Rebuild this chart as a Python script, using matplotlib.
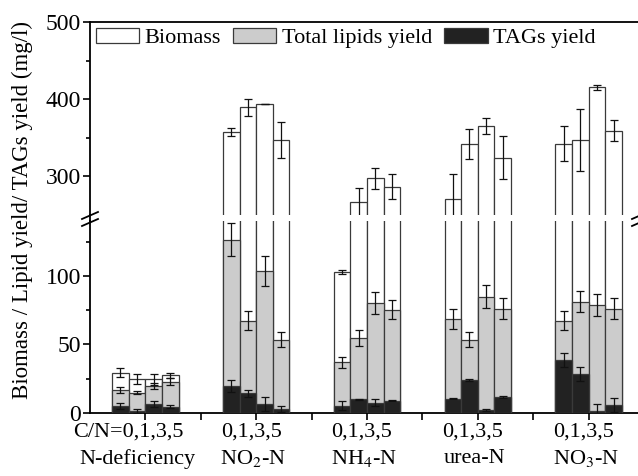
import numpy as np
import matplotlib
matplotlib.use("Agg")
import matplotlib.pyplot as plt
from matplotlib.lines import Line2D

plt.rcParams['font.family'] = ['Liberation Serif', 'DejaVu Serif']
plt.rcParams['mathtext.fontset'] = 'stix'

groups = ['N-deficiency', 'NO$_2$-N', 'NH$_4$-N', 'urea-N', 'NO$_3$-N']
ratio_labels = ['C/N=0,1,3,5', '0,1,3,5', '0,1,3,5', '0,1,3,5', '0,1,3,5']

# mg/l, one row per nitrogen source, columns C/N = 0,1,3,5
biomass = [[29.4, 24.6, 24.6, 27.5],
           [357, 389, 394, 347],
           [102.7, 266, 297, 286],
           [270, 342, 365, 324],
           [342, 347, 415, 359]]
biomass_err = [[3.5, 3.5, 4, 2],
               [5, 11, 0, 23],
               [1.5, 19, 14, 16],
               [32, 19.5, 10, 28],
               [22.5, 40, 3, 14]]
lipids = [[16.8, 14.8, 19.7, 22.9],
          [126.3, 67.4, 103.6, 53.3],
          [37, 54.7, 80, 75.2],
          [68.6, 53.3, 84.9, 76.1],
          [67.4, 81.3, 78.6, 76.1]]
lipids_err = [[2.5, 1, 2, 2.5],
              [12, 7, 11, 5.5],
              [4, 5.5, 8, 7],
              [7, 5.5, 8.5, 7.5],
              [7, 8, 8, 7.5]]
tags = [[5.1, 1.5, 6.6, 4.6],
        [19.7, 14.4, 6.6, 2.9],
        [5.4, 10, 7.5, 9],
        [10.5, 24.1, 2.2, 11.7],
        [38.7, 28.5, 1.7, 5.8]]
tags_err = [[2, 1.5, 2, 1],
            [4.5, 2.5, 5, 2],
            [3, 0.5, 2.5, 0.5],
            [0.5, 0.5, 0.5, 0.5],
            [5, 5, 5, 5]]

W, H = 638, 476
fig = plt.figure(figsize=(W / 100, H / 100), dpi=100)

left = 90 / W
width = (644 - 90) / W
ax_lo = fig.add_axes([left, (H - 413) / H, width, (413 - 221) / H])
ax_hi = fig.add_axes([left, (H - 214.5) / H, width, (214.5 - 22) / H])

centers = np.arange(1, len(groups) + 1)
bw = 0.15
offsets = np.array([-1.5, -0.5, 0.5, 1.5]) * bw
edge = '#3a3a3a'

for ax in (ax_lo, ax_hi):
    for i, c in enumerate(centers):
        xs = c + offsets
        ax.bar(xs, biomass[i], bw, color='white', edgecolor=edge, linewidth=0.9, zorder=2)
        ax.bar(xs, lipids[i], bw, color='#cccccc', edgecolor=edge, linewidth=0.9, zorder=3)
        ax.bar(xs, tags[i], bw, color='#222222', edgecolor=edge, linewidth=0.9, zorder=4)
        for vals, errs in ((biomass[i], biomass_err[i]), (lipids[i], lipids_err[i]),
                           (tags[i], tags_err[i])):
            ax.errorbar(xs, vals, yerr=errs, fmt='none', ecolor='#111111',
                        elinewidth=0.9, capsize=3, capthick=0.9, zorder=5)
    ax.set_xlim(0.5, 5.5)
    for s in ax.spines.values():
        s.set_linewidth(1.3)
    ax.spines['right'].set_visible(False)
    ax.tick_params(axis='y', which='major', direction='out', length=5, width=1.2,
                   labelsize=17, pad=1.5)
    ax.tick_params(axis='y', which='minor', direction='out', length=3, width=1.2)

ax_lo.set_ylim(0, 140)
ax_lo.set_yticks([0, 50, 100])
ax_lo.set_yticks([25, 75, 125], minor=True)
ax_lo.spines['top'].set_visible(False)
ax_lo.set_xticks(centers)
ax_lo.set_xticklabels([])
ax_lo.set_xticks(centers[:-1] + 0.5, minor=True)
ax_lo.tick_params(axis='x', which='both', direction='out', length=5, width=1.2)

ax_hi.set_ylim(250, 500)
ax_hi.set_yticks([300, 400, 500])
ax_hi.set_yticks([350, 450], minor=True)
ax_hi.spines['bottom'].set_visible(False)
ax_hi.set_xticks([])

# category labels under the axis
for i, c in enumerate(centers):
    dx = -17 if i == 0 else -5
    ax_lo.annotate(ratio_labels[i], xy=(c, 0), xycoords=('data', 'axes fraction'),
                   xytext=(dx * 0.72, -14), textcoords='offset points',
                   ha='center', va='center', fontsize=16)
    dx2 = -8 if i == 0 else -3
    ax_lo.annotate(groups[i], xy=(c, 0), xycoords=('data', 'axes fraction'),
                   xytext=(dx2 * 0.72, -33), textcoords='offset points',
                   ha='center', va='center', fontsize=16)

# axis break: join left spine and draw slash marks
fx = 90 / W
fig.add_artist(Line2D([fx, fx], [(H - 221) / H, (H - 214.5) / H], transform=fig.transFigure,
                      color='black', lw=1.3))
for dy in (0, 7):
    fig.add_artist(Line2D([82 / W, 98 / W], [(H - 219 - dy) / H, (H - 212 - dy) / H],
                          transform=fig.transFigure, color='black', lw=1.3))
    fig.add_artist(Line2D([632 / W, 648 / W], [(H - 219 - dy) / H, (H - 212 - dy) / H],
                          transform=fig.transFigure, color='black', lw=1.3))

handles = [plt.Rectangle((0, 0), 1, 1, facecolor=fc, edgecolor=edge, linewidth=0.9)
           for fc in ('white', '#cccccc', '#222222')]
ax_hi.legend(handles, ['Biomass', 'Total lipids yield', 'TAGs yield'], loc='upper left',
             ncol=3, frameon=False, fontsize=16, handlelength=1.95, handleheight=0.7,
             handletextpad=0.25, columnspacing=0.55, borderaxespad=0.15, borderpad=0.1)

fig.text(22 / W, (H - 210) / H, 'Biomass / Lipid yield/ TAGs yield (mg/l)', rotation=90,
         ha='center', va='center', fontsize=16.5)

fig.savefig('out.png', dpi=100)
